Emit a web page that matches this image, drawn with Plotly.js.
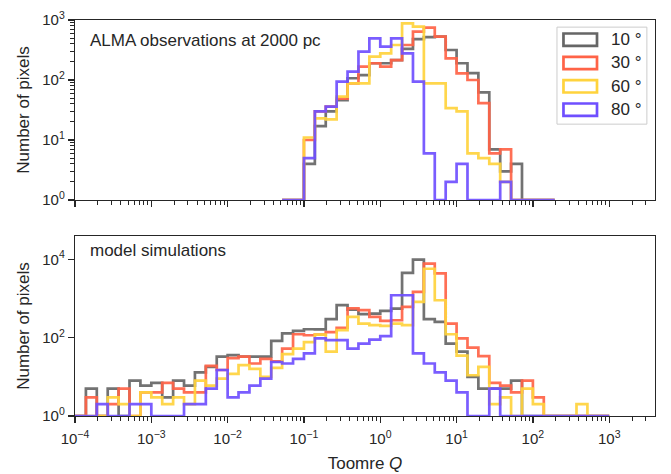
<!DOCTYPE html>
<html><head><meta charset="utf-8">
<script src="https://cdn.plot.ly/plotly-3.0.1.min.js"></script>
<style>html,body{margin:0;padding:0;background:#fff;} #chart{width:671px;height:474px;}</style>
</head><body><div id="chart"></div>
<script>
// ---- data: histogram counts in log-spaced bins (7 bins per decade of Toomre Q) ----
const BINS_PER_DECADE = 7;
const seriesLabels = ['10 °', '30 °', '60 °', '80 °'];
const seriesColors = ['#666666', '#ff6347', '#ffd33d', '#6f4fff'];

// top panel: ALMA observations, first bin starts at 10^(-9/7)
const topFirstBin = -9;
const topCounts10 = [0,0, 4,17,30,46,107,121,190,190,215,330,480,520,527,316,190,130,62,7,3,4, 0,0,0];
const topCounts30 = [0,0, 10,30,36,49,88,167,190,167,215,383,640,745,527,230,129,100,41,6,7, 0,0,0,0];
const topCounts60 = [0,0, 11,23,22,53,88,88,245,278,383,880,774,88,88,34,30,6,5,4,2, 0,0,0,0];
const topCounts80 = [0,0, 5,30,36,94,138,297,495,359,495,278,94,6,0,2,4,0,0,0,2, 0,0,0,0];

// bottom panel: model simulations, first bin starts at 10^(-28/7) = 1e-4
const bottomFirstBin = -28;
const botCounts10 = [0, 5,0,5,0,8,6,7,3,8,6,13,18,33,36,33,33,33,83,130,150,165,163,300,680,520,400,415,486,555,4530,9900,300,254,71,44,10,5,5,5,8, 0,0,0,0,0,0,0,0];
const botCounts30 = [0, 3,0,2,5,0,4,4,7,5,4,4,19,15,30,33,22,29,25,53,123,116,120,140,180,560,507,340,270,280,617,1480,7800,4400,230,96,56,34,7,6,4,8,3, 0,0,0,0,0,0];
const botCounts60 = [0, 0,0,3,2,0,4,3,2,3,2,8,6,9,12,20,16,10,17,38,53,77,120,44,156,340,230,210,200,230,210,830,5800,910,123,35,11,18,2,3,0,5,2, 0,0,0,2,0,0];
const botCounts80 = [0, 0,2,0,0,2,2,0,0,0,2,2,5,15,3,4,6,9,24,22,29,40,96,87,87,53,71,90,110,1220,1220,40,22,13,8,4,0,0,5, 0,0,0,0,0,0,0,0,0,0];

// tick labels
const xTickExps = [-4,-3,-2,-1,0,1,2,3];
const yTopTickExps = [0,1,2,3];
const yBotTickExps = [0,2,4];
const xTitle = 'Toomre <i>Q</i>';
const yTitle = 'Number of pixels';
const topText = 'ALMA observations at 2000 pc';
const botText = 'model simulations';

// ---- helpers ----
function edge(k){ return Math.pow(10, k / BINS_PER_DECADE); }
function stepXY(firstBin, counts){
  const v = c => Math.max(c, 1);           // empty bins lie on the log baseline
  const xs = [edge(firstBin)], ys = [1];
  counts.forEach((c, i) => { xs.push(edge(firstBin + i)); ys.push(v(c)); });
  const last = edge(firstBin + counts.length);
  xs.push(last); ys.push(v(counts[counts.length - 1]));
  xs.push(last); ys.push(1);
  return {xs, ys};
}
function powLabel(e){ return '10<sup>' + (e < 0 ? '\u2212' + (-e) : e) + '</sup>'; }
function minorVals(lo, hi, maxVal){
  const out = [];
  for (let n = lo; n <= hi; n++) for (let m = 2; m <= 9; m++){ const v = m * Math.pow(10, n); if (v < maxVal) out.push(v); }
  return out;
}

const INK = '#262626';
const FONT = 'Liberation Sans, Arial, Helvetica, sans-serif';
const traces = [];
const topSets = [topCounts10, topCounts30, topCounts60, topCounts80];
const botSets = [botCounts10, botCounts30, botCounts60, botCounts80];
topSets.forEach((c, i) => {
  const s = stepXY(topFirstBin, c);
  traces.push({x: s.xs, y: s.ys, xaxis: 'x', yaxis: 'y', mode: 'lines', name: seriesLabels[i],
    line: {shape: 'hv', color: seriesColors[i], width: 2.7}, opacity: 0.92, showlegend: false, hoverinfo: 'skip'});
});
botSets.forEach((c, i) => {
  const s = stepXY(bottomFirstBin, c);
  traces.push({x: s.xs, y: s.ys, xaxis: 'x2', yaxis: 'y2', mode: 'lines', name: seriesLabels[i],
    line: {shape: 'hv', color: seriesColors[i], width: 2.7}, opacity: 0.92, showlegend: false, hoverinfo: 'skip'});
});

const XMAX_LOG = 3.6;
const xTickVals = xTickExps.map(e => Math.pow(10, e));
const xMinor = minorVals(-4, 3, Math.pow(10, XMAX_LOG));
const axisCommon = {type: 'log', showline: true, linecolor: INK, linewidth: 1.25, mirror: true,
  ticks: 'outside', ticklen: 6, tickwidth: 1.25, tickcolor: INK, showgrid: false, zeroline: false,
  tickfont: {family: FONT, size: 15, color: INK}, tickmode: 'array'};

const layout = {
  width: 671, height: 474,
  margin: {l: 75, r: 16, t: 20, b: 58},
  paper_bgcolor: '#ffffff', plot_bgcolor: '#ffffff',
  font: {family: FONT, color: INK},
  xaxis: Object.assign({}, axisCommon, {domain: [0, 1], anchor: 'y', range: [-4, XMAX_LOG], matches: 'x2',
    tickvals: xTickVals, ticktext: xTickExps.map(powLabel), showticklabels: false,
    minor: {tickmode: 'array', tickvals: xMinor, ticks: 'outside', ticklen: 3.5, tickwidth: 1, tickcolor: INK, showgrid: false}}),
  yaxis: Object.assign({}, axisCommon, {domain: [0.5455, 1], anchor: 'x', range: [0, 3],
    tickvals: yTopTickExps.map(e => Math.pow(10, e)), ticktext: yTopTickExps.map(powLabel),
    minor: {tickmode: 'array', tickvals: minorVals(0, 2, 1000), ticks: 'outside', ticklen: 3.5, tickwidth: 1, tickcolor: INK, showgrid: false},
    title: {text: yTitle, font: {family: FONT, size: 17, color: INK}, standoff: 8}}),
  xaxis2: Object.assign({}, axisCommon, {domain: [0, 1], anchor: 'y2', range: [-4, XMAX_LOG],
    tickvals: xTickVals, ticktext: xTickExps.map(powLabel), ticklabelstandoff: 3,
    minor: {tickmode: 'array', tickvals: xMinor, ticks: 'outside', ticklen: 3.5, tickwidth: 1, tickcolor: INK, showgrid: false},
    title: {text: xTitle, font: {family: FONT, size: 17, color: INK}, standoff: 10}}),
  yaxis2: Object.assign({}, axisCommon, {domain: [0, 0.4545], anchor: 'x2', range: [0, 4.6],
    tickvals: yBotTickExps.map(e => Math.pow(10, e)), ticktext: yBotTickExps.map(powLabel),
    title: {text: yTitle, font: {family: FONT, size: 17, color: INK}, standoff: 8}}),
  annotations: [
    {text: topText, xref: 'paper', yref: 'paper', x: 0.022, y: 0.949, xanchor: 'left', yanchor: 'middle', showarrow: false,
     font: {family: FONT, size: 17, color: INK}},
    {text: botText, xref: 'paper', yref: 'paper', x: 0.022, y: 0.419, xanchor: 'left', yanchor: 'middle', showarrow: false,
     font: {family: FONT, size: 17, color: INK}}
  ],
  shapes: [
    {type: 'rect', xref: 'paper', yref: 'paper', x0: 0.831, x1: 0.986, y0: 0.737, y1: 0.982,
     line: {color: '#cccccc', width: 1}, fillcolor: 'rgba(255,255,255,0.85)', layer: 'above'}
  ]
};

// hand-drawn legend with rectangular patches (as in the reference)
const rowPy = [39.7, 63, 86.3, 109.7];
rowPy.forEach((py, i) => {
  const yc = (416 - py) / 396, hh = 6.2 / 396;
  layout.shapes.push({type: 'rect', xref: 'paper', yref: 'paper', x0: 0.8422, x1: 0.9, y0: yc - hh, y1: yc + hh,
    line: {color: seriesColors[i], width: 2.7}, fillcolor: 'rgba(0,0,0,0)', layer: 'above'});
  layout.annotations.push({text: seriesLabels[i], xref: 'paper', yref: 'paper', x: 0.9207, y: yc,
    xanchor: 'left', yanchor: 'middle', showarrow: false, font: {family: FONT, size: 17, color: INK}});
});

Plotly.newPlot('chart', traces, layout, {staticPlot: true, displayModeBar: false});
</script>
</body></html>
